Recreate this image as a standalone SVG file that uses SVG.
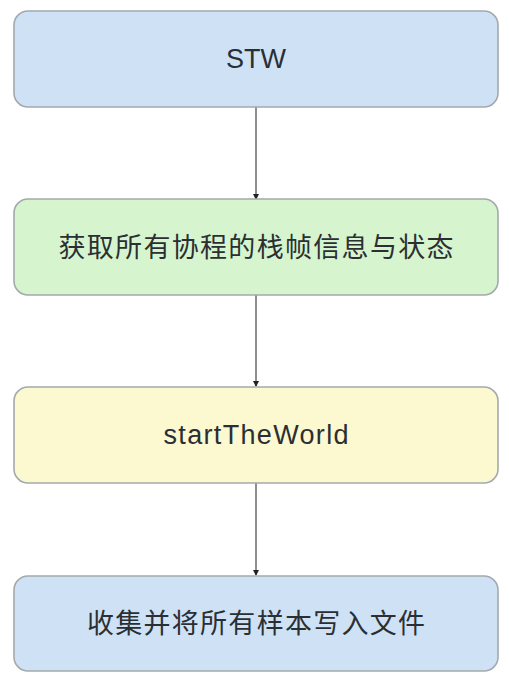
<svg xmlns="http://www.w3.org/2000/svg" width="509" height="681" viewBox="0 0 509 681">
<defs>
<marker id="arr" markerWidth="6" markerHeight="6" refX="5" refY="3" orient="auto" markerUnits="userSpaceOnUse">
<path d="M0,0 L6,3 L0,6 Z" fill="#222"/>
</marker>
<style>
.box{stroke:#a3a9ad;stroke-width:1.6}
.blue{fill:#cfe2f5}
.green{fill:#d6f5cf}
.yellow{fill:#fcf8cf}
.lbl{font-family:"Liberation Sans","Noto Sans CJK SC",sans-serif;font-size:27px;fill:#2b2f33;text-anchor:middle}
.cjk{font-family:"Noto Sans CJK SC",sans-serif;font-size:27px;fill:#2b2f33;text-anchor:middle}
.edge{stroke:#444;stroke-width:1.2;fill:none}
</style>
</defs>
<rect width="509" height="681" fill="#ffffff"/>
<g id="connectors">
<line class="edge" x1="256" y1="107" x2="256" y2="199" marker-end="url(#arr)"/>
<line class="edge" x1="256" y1="295" x2="256" y2="386" marker-end="url(#arr)"/>
<line class="edge" x1="256" y1="483" x2="256" y2="575" marker-end="url(#arr)"/>
</g>
<g id="node-stw">
<rect class="box blue" x="14" y="11" width="484" height="96" rx="14"/>
<text class="lbl" x="256" y="68">STW</text>
</g>
<g id="node-stack">
<rect class="box green" x="14" y="199" width="484" height="96" rx="14"/>
<text class="cjk" x="256" y="257" textLength="395" lengthAdjust="spacing">获取所有协程的栈帧信息与状态</text>
</g>
<g id="node-start">
<rect class="box yellow" x="14" y="387" width="484" height="96" rx="14"/>
<text class="lbl" x="256" y="444" textLength="185" lengthAdjust="spacing">startTheWorld</text>
</g>
<g id="node-write">
<rect class="box blue" x="14" y="576" width="484" height="95" rx="14"/>
<text class="cjk" x="256" y="633" textLength="338" lengthAdjust="spacing">收集并将所有样本写入文件</text>
</g>
</svg>
